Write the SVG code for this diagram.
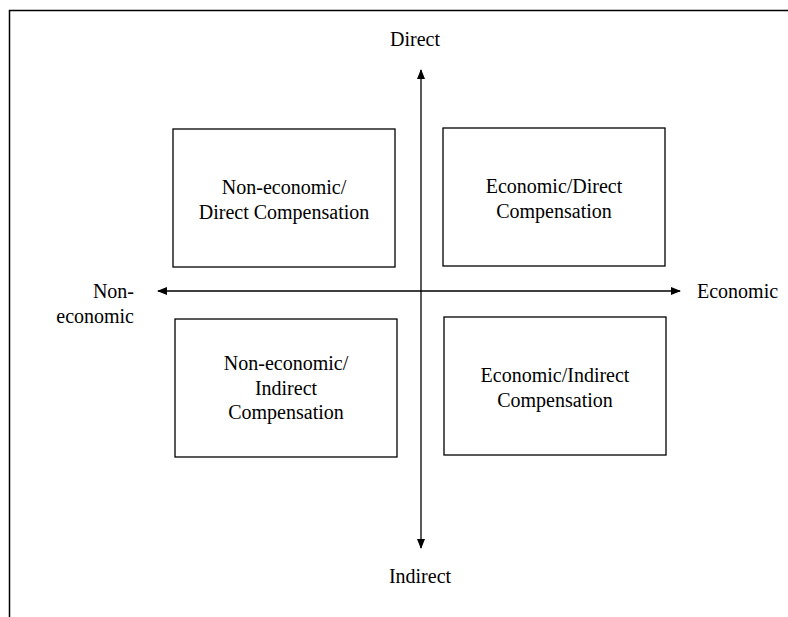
<svg xmlns="http://www.w3.org/2000/svg" width="788" height="617" viewBox="0 0 788 617">
<style>
.box{fill:#fff;stroke:#000;stroke-width:1.3}
.ax{stroke:#000;stroke-width:1.3;fill:none}
text{font-family:"Liberation Serif","Times New Roman",serif;font-size:20px;fill:#000}
.c{text-anchor:middle}
</style>
<defs>
<marker id="ah" viewBox="0 0 10 10" refX="9" refY="5" markerWidth="10" markerHeight="10" markerUnits="userSpaceOnUse" orient="auto-start-reverse">
<path d="M0,1 L10,5 L0,9 Z" fill="#000"/>
</marker>
</defs>
<rect width="788" height="617" fill="#fff"/>
<path d="M9.5,617 V10.5 H788" fill="none" stroke="#000" stroke-width="1.5"/>
<g id="connectors">
<line class="ax" x1="421" y1="548" x2="421" y2="70" marker-start="url(#ah)" marker-end="url(#ah)"/>
<line class="ax" x1="158" y1="291" x2="680" y2="291" marker-start="url(#ah)" marker-end="url(#ah)"/>
</g>
<g id="lbl-direct"><text class="c" x="415" y="46">Direct</text></g>
<g id="lbl-indirect"><text class="c" x="420" y="583">Indirect</text></g>
<g id="lbl-noneco"><text x="134" y="298" text-anchor="end">Non-</text><text x="134" y="323" text-anchor="end">economic</text></g>
<g id="lbl-eco"><text x="697" y="298">Economic</text></g>
<g id="q-ned">
<rect class="box" x="173" y="129" width="222" height="138"/>
<text class="c" x="284" y="194">Non-economic/</text>
<text class="c" x="284" y="219">Direct  Compensation</text>
</g>
<g id="q-ed">
<rect class="box" x="443" y="128" width="222" height="138"/>
<text class="c" x="554" y="193">Economic/Direct</text>
<text class="c" x="554" y="218">Compensation</text>
</g>
<g id="q-nei">
<rect class="box" x="175" y="319" width="222" height="138"/>
<text class="c" x="286" y="370">Non-economic/</text>
<text class="c" x="286" y="395">Indirect</text>
<text class="c" x="286" y="419">Compensation</text>
</g>
<g id="q-ei">
<rect class="box" x="444" y="317" width="222" height="138"/>
<text class="c" x="555" y="382">Economic/Indirect</text>
<text class="c" x="555" y="407">Compensation</text>
</g>
</svg>
